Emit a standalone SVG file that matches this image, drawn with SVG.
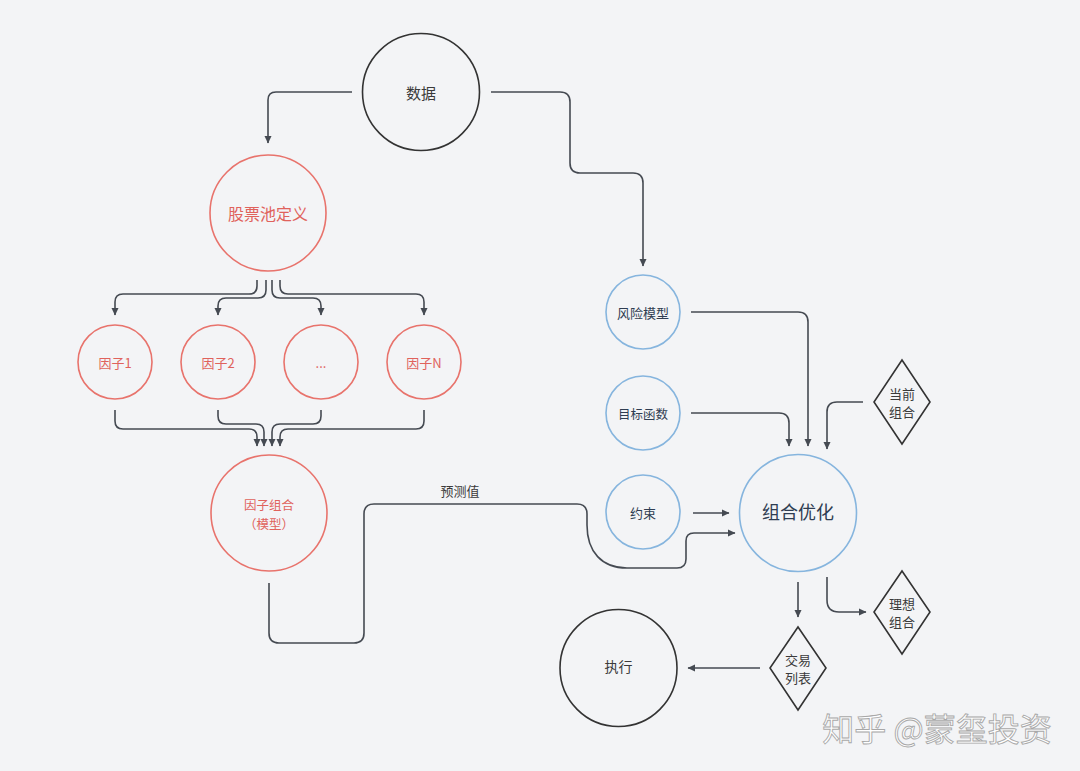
<svg xmlns="http://www.w3.org/2000/svg" width="1080" height="771" viewBox="0 0 1080 771">
<style>
text{font-family:"Noto Sans CJK SC","Noto Sans",sans-serif;text-anchor:middle;dominant-baseline:central}
.red{fill:none;stroke:#e8736c;stroke-width:1.6}
.blue{fill:none;stroke:#86b5de;stroke-width:1.6}
.dark{fill:none;stroke:#333;stroke-width:1.6}
.rt{fill:#e0625c}
.bt{fill:#2f3d52}
.dt{fill:#3a3a3a}
.c{fill:none;stroke:#454a52;stroke-width:1.6;marker-end:url(#ah)}
</style>
<defs>
<marker id="ah" markerUnits="userSpaceOnUse" markerWidth="8" markerHeight="8" refX="7" refY="4" orient="auto">
<path d="M0,0.5 L7.5,4 L0,7.5 z" fill="#454a52"/>
</marker>
</defs>
<rect width="1080" height="771" fill="#f3f4f6"/>
<g id="connectors">
<path class="c" d="M352,92 H276 Q268,92 268,100 V143"/>
<path class="c" d="M491,92 H560 Q570,92 570,102 V163 Q570,173 580,173 H633 Q643,173 643,183 V266"/>
<path class="c" d="M257,280 V286 Q257,294 249,294 H123 Q115,294 115,302 V315"/>
<path class="c" d="M266,280 V290 Q266,298 258,298 H226 Q218,298 218,306 V315"/>
<path class="c" d="M272,280 V290 Q272,298 280,298 H313 Q321,298 321,306 V315"/>
<path class="c" d="M280,280 V286 Q280,294 288,294 H416 Q424,294 424,302 V315"/>
<path class="c" d="M115,410 V421 Q115,429 123,429 H249 Q257,429 257,437 V446"/>
<path class="c" d="M218,410 V416 Q218,424 226,424 H256 Q264,424 264,432 V446"/>
<path class="c" d="M321,410 V416 Q321,424 313,424 H280 Q272,424 272,432 V446"/>
<path class="c" d="M424,410 V421 Q424,429 416,429 H288 Q280,429 280,437 V446"/>
<path class="c" d="M691,312 H798 Q808,312 808,322 V446"/>
<path class="c" d="M691,413 H779 Q789,413 789,423 V446"/>
<path class="c" d="M863,402 H837 Q827,402 827,412 V449"/>
<path class="c" d="M693,513 H729"/>
<path class="c" d="M269,583 V633 Q269,643 279,643 H354 Q364,643 364,633 V514 Q364,504 374,504 H577 Q587,504 587,514 V525 C587,552 602,568 627,568 H677 Q686,568 686,559 V541 Q686,533 694,533 H735"/>
<text x="460" y="490" font-size="13" class="dt">预测值</text>
<path class="c" d="M798,582 V617"/>
<path class="c" d="M827,577 V600 Q827,612 839,612 H866"/>
<path class="c" d="M760,668 H688"/>
</g>
<g id="n-data"><circle class="dark" cx="421" cy="92" r="58.5"/><text x="421" y="92" font-size="15" class="dt">数据</text></g>
<g id="n-pool"><circle class="red" cx="268" cy="213" r="58"/><text x="268" y="213" font-size="16" class="rt">股票池定义</text></g>
<g id="n-f1"><circle class="red" cx="115" cy="362" r="37"/><text x="115" y="362" font-size="13" class="rt">因子1</text></g>
<g id="n-f2"><circle class="red" cx="218" cy="362" r="37"/><text x="218" y="362" font-size="13" class="rt">因子2</text></g>
<g id="n-fdots"><circle class="red" cx="321" cy="362" r="37"/><text x="321" y="362" font-size="13" class="rt">...</text></g>
<g id="n-fn"><circle class="red" cx="424" cy="362" r="37"/><text x="424" y="362" font-size="13" class="rt">因子N</text></g>
<g id="n-combo"><circle class="red" cx="269" cy="513" r="58"/><text x="269" y="504" font-size="12.5" class="rt">因子组合</text><text x="269" y="523" font-size="12.5" class="rt">（模型）</text></g>
<g id="n-risk"><circle class="blue" cx="643" cy="312" r="37"/><text x="643" y="312" font-size="13" class="bt">风险模型</text></g>
<g id="n-obj"><circle class="blue" cx="643" cy="413" r="37"/><text x="643" y="413" font-size="12.5" class="bt">目标函数</text></g>
<g id="n-cons"><circle class="blue" cx="643" cy="512" r="37"/><text x="643" y="512" font-size="13" class="bt">约束</text></g>
<g id="n-opt"><circle class="blue" cx="798" cy="513" r="58.5"/><text x="798" y="511" font-size="18" class="bt">组合优化</text></g>
<g id="n-cur"><path class="dark" d="M902,360 L930,402 L902,444 L874,402 z"/><text x="902" y="393" font-size="13" class="dt">当前</text><text x="902" y="411" font-size="13" class="dt">组合</text></g>
<g id="n-ideal"><path class="dark" d="M902,571 L930,612 L902,654 L874,612 z"/><text x="902" y="603" font-size="13" class="dt">理想</text><text x="902" y="621" font-size="13" class="dt">组合</text></g>
<g id="n-trade"><path class="dark" d="M798,627 L826,668 L798,710 L770,668 z"/><text x="798" y="659" font-size="13" class="dt">交易</text><text x="798" y="677" font-size="13" class="dt">列表</text></g>
<g id="n-exec"><circle class="dark" cx="618.5" cy="668" r="58.5"/><text x="618.5" y="666" font-size="14" class="dt">执行</text></g>
<text x="937" y="727" font-size="32" fill="#ffffff" stroke="#a8a8a8" stroke-width="0.9">知乎 @蒙玺投资</text>
</svg>
